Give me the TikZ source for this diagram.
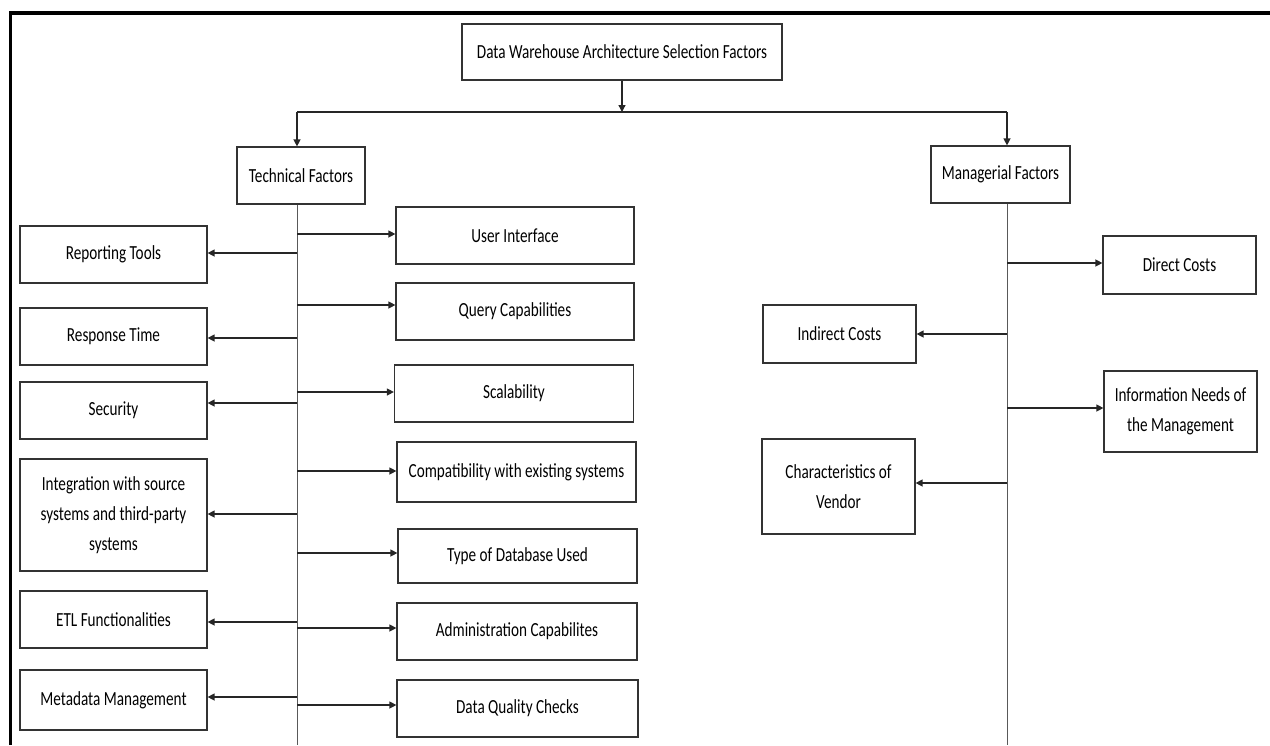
\documentclass[tikz,border=0pt]{standalone}
\usepackage{fontspec}
\setmainfont{Carlito}[FakeStretch=0.76]
\usetikzlibrary{arrows.meta}
\tikzset{
  box/.style={draw=black!80, line width=1.2pt, inner sep=0pt, align=center,
    font=\fontsize{20}{30}\selectfont},
  arr/.style={draw=black!85, line width=1.3pt, -{Triangle[length=7pt,width=7pt]}},
  trunk/.style={draw=black!65, line width=1pt}
}
\begin{document}
\begin{tikzpicture}[x=1pt,y=-1pt]
    \useasboundingbox (0,0) rectangle (1270,745);
    % frame
    \draw[line width=3.5pt] (10.5,745) -- (10.5,12.75) -- (1270,12.75);

    \node[box, minimum width=320pt, minimum height=56pt] (top) at (622,52) {Data Warehouse Architecture Selection Factors};
    \node[box, minimum width=128pt, minimum height=57pt] (tech) at (301,175.5) {Technical Factors};
    \node[box, minimum width=139pt, minimum height=57pt] (mgr) at (1000.5,174.5) {Managerial Factors};

    \coordinate (tbus) at (297,112);
    \coordinate (mbus) at (1007,112);
    \coordinate (tend) at (297,745);
    \coordinate (mend) at (1007,745);
    \draw[arr] (top.south) -- (top.south |- tbus);
    \path[draw,line width=1.3pt,black!85] (tbus) -- (mbus);
    \draw[arr] (tbus) -- (tbus |- tech.north);
    \draw[arr] (mbus) -- (mbus |- mgr.north);
    \draw[trunk] (tbus |- tech.south) -- (tend);
    \draw[trunk] (mbus |- mgr.south) -- (mend);

    % technical, left
    \node[box, minimum width=187pt, minimum height=57pt] (rep) at (113.5,254.5) {Reporting Tools};
    \node[box, minimum width=187pt, minimum height=57pt] (resp) at (113.5,336.5) {Response Time};
    \node[box, minimum width=187pt, minimum height=57pt] (sec) at (113.5,410.5) {Security};
    \node[box, minimum width=187pt, minimum height=112pt] (integ) at (113.5,515) {Integration with source\\systems and third-party\\systems};
    \node[box, minimum width=187pt, minimum height=57pt] (etl) at (113.5,619.5) {ETL Functionalities};
    \node[box, minimum width=187pt, minimum height=60pt] (meta) at (113.5,700) {Metadata Management};

    % technical, right
    \node[box, minimum width=238pt, minimum height=57pt] (ui) at (515,235.5) {User Interface};
    \node[box, minimum width=238pt, minimum height=57pt] (query) at (515,311.5) {Query Capabilities};
    \node[box, minimum width=239pt, minimum height=57pt] (scal) at (514,393.5) {Scalability};
    \node[box, minimum width=239pt, minimum height=60pt] (compat) at (516.5,472) {Compatibility with existing systems};
    \node[box, minimum width=239pt, minimum height=54pt] (type) at (517.5,556) {Type of Database Used};
    \node[box, minimum width=240pt, minimum height=57pt] (admin) at (517,631.5) {Administration Capabilites};
    \node[box, minimum width=241pt, minimum height=57pt] (dq) at (517.5,708.5) {Data Quality Checks};

    % managerial
    \node[box, minimum width=153pt, minimum height=58pt] (direct) at (1179.5,265) {Direct Costs};
    \node[box, minimum width=153pt, minimum height=58pt] (indirect) at (839.5,334) {Indirect Costs};
    \node[box, minimum width=153pt, minimum height=81pt] (info) at (1180.5,411.5) {Information Needs of\\the Management};
    \node[box, minimum width=153pt, minimum height=95pt] (vendor) at (838.5,486.5) {Characteristics of\\Vendor};

    \draw[arr] (tbus |- 0,253) -- (rep.east |- 0,253);
    \draw[arr] (tbus |- 0,338) -- (resp.east |- 0,338);
    \draw[arr] (tbus |- 0,403) -- (sec.east |- 0,403);
    \draw[arr] (tbus |- 0,514) -- (integ.east |- 0,514);
    \draw[arr] (tbus |- 0,622) -- (etl.east |- 0,622);
    \draw[arr] (tbus |- 0,697) -- (meta.east |- 0,697);

    \draw[arr] (tbus |- 0,234) -- (ui.west |- 0,234);
    \draw[arr] (tbus |- 0,305) -- (query.west |- 0,305);
    \draw[arr] (tbus |- 0,392) -- (scal.west |- 0,392);
    \draw[arr] (tbus |- 0,471) -- (compat.west |- 0,471);
    \draw[arr] (tbus |- 0,553) -- (type.west |- 0,553);
    \draw[arr] (tbus |- 0,628) -- (admin.west |- 0,628);
    \draw[arr] (tbus |- 0,705) -- (dq.west |- 0,705);

    \draw[arr] (mbus |- 0,263) -- (direct.west |- 0,263);
    \draw[arr] (mbus |- 0,334) -- (indirect.east |- 0,334);
    \draw[arr] (mbus |- 0,408) -- (info.west |- 0,408);
    \draw[arr] (mbus |- 0,483) -- (vendor.east |- 0,483);
\end{tikzpicture}
\end{document}
